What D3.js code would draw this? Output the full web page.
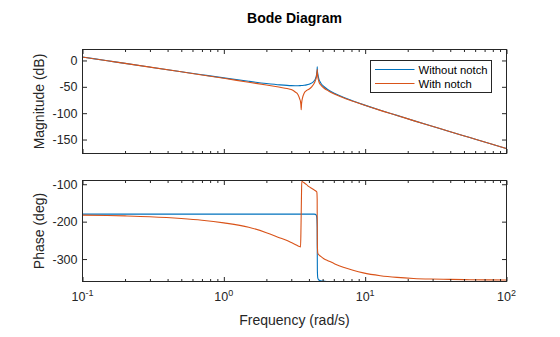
<!DOCTYPE html>
<html>
<head>
<meta charset="utf-8">
<script src="https://cdn.jsdelivr.net/npm/d3@7"></script>
<style>
  body { margin: 0; background: #fff; }
  svg { display: block; font-family: "Liberation Sans", Arial, Helvetica, sans-serif; }
</style>
</head>
<body>
<svg id="chart" width="560" height="337"></svg>
<script>
// Frequency grid (rad/s), denser around the notch (~3.53) and the resonance (~4.58)
const freq = [0.1, 0.15, 0.2, 0.3, 0.5, 0.7, 1, 1.5, 2, 2.5, 2.8, 3.0, 3.2, 3.35, 3.45, 3.49, 3.51, 3.527, 3.545, 3.56,
  3.6, 3.7, 3.85, 4.0, 4.2, 4.35, 4.45, 4.52, 4.55, 4.575, 4.58, 4.59, 4.62, 4.7, 4.85, 5.1, 5.5, 6.1, 7, 8.2,
  9.7, 12.8, 16.8, 22, 29, 40, 55, 75, 100];

// Magnitude (dB)
const magWithout = [6.5, -0.53, -5.52, -12.54, -21.36, -27.1, -33.08, -39.56, -43.7, -46.35, -47.32, -47.72, -47.88, -47.85, -47.73, -47.66, -47.62, -47.59, -47.54, -47.5,
  -47.39, -47.05, -46.27, -45.08, -42.46, -38.87, -34.4, -28.0, -22.1, -17.0, -12.0, -19.0, -25.0, -34.9, -42.6, -49.4, -56.0, -62.7, -69.8, -76.8,
  -83.8, -94.5, -104.2, -114.1, -123.8, -135.1, -146.2, -157.0, -167.1];
const magWith = [6.5, -0.55, -5.55, -12.6, -21.54, -27.45, -33.82, -41.4, -46.6, -50.95, -53.2, -55.3, -59.9, -64.85, -73.7, -78.7, -84.6, -93.5, -83.5, -78.5,
  -71.4, -62.0, -57.0, -54.6, -49.5, -43.9, -37.9, -31.0, -25.1, -20.0, -17.0, -22.0, -30.0, -39.9, -46.4, -52.2, -57.8, -63.9, -70.6, -77.3,
  -84.15, -94.7, -104.3, -114.15, -123.8, -135.1, -146.2, -157.0, -167.1];

// Phase (deg)
const phaseWithout = [-180, -180, -180, -180, -180, -180, -180, -180, -180, -180, -180, -180, -180, -180, -180, -180, -180, -180, -180, -180,
  -180, -180, -180, -180, -180, -180, -180.5, -184, -190, -215, -270, -330, -350, -356, -358, -359, -360, -360, -360, -360,
  -360, -360, -360, -360, -360, -360, -360, -360, -360];
const phaseWith = [-182.5, -183.4, -184.6, -186.8, -191.5, -196.1, -203.3, -215, -229.5, -243.5, -250.5, -256, -261, -265, -266.5, -267.5, -230, -180, -125, -92,
  -93, -96, -101, -106.5, -111.5, -115, -117.5, -119.5, -121, -140, -200, -260, -284, -288.5, -293, -299, -305, -313, -322, -330,
  -337, -344.5, -349, -351.8, -353.4, -354.4, -355.2, -355.7, -356];

const seriesNames = ["Without notch", "With notch"];
const seriesColors = ["#0072BD", "#D95319"];

// Axis limits and ticks
const freqRange = [0.1, 100];
const freqTicks = [0.1, 1, 10, 100];
const freqExponents = ["-1", "0", "1", "2"];
const magRange = [-176.5, 20.8];
const magTicks = [-150, -100, -50, 0];
const phaseRange = [-360, -90];
const phaseTicks = [-300, -200, -100];

const svg = d3.select("#chart");
const axisColor = "#262626";
const left = 82.5, right = 506.5;
const magBox = { top: 49.5, bottom: 153.5 };
const phBox = { top: 180.5, bottom: 281.5 };

const x = d3.scaleLog().domain(freqRange).range([left, right]);
const yMag = d3.scaleLinear().domain(magRange).range([magBox.bottom, magBox.top]);
const yPh = d3.scaleLinear().domain(phaseRange).range([phBox.bottom, phBox.top]);

// minor ticks: 2..9 within each decade
const minorTicks = [];
[0.1, 1, 10].forEach(d => { for (let k = 2; k <= 9; k++) minorTicks.push(+(k * d).toPrecision(3)); });

function styleAxis(g) {
  g.select(".domain").remove();
  g.selectAll(".tick line").attr("stroke", axisColor).attr("stroke-width", 1);
  g.selectAll(".tick text").attr("fill", axisColor).attr("font-size", 12.5);
}

function panel(y, box, yTicks, series, id) {
  const g = svg.append("g");
  const h = box.bottom - box.top;

  g.append("rect").attr("x", left).attr("y", box.top).attr("width", right - left).attr("height", h).attr("fill", "#fff");

  svg.append("clipPath").attr("id", id).append("rect")
    .attr("x", left).attr("y", box.top).attr("width", right - left).attr("height", h);

  const line = d3.line().curve(d3.curveMonotoneX);
  series.forEach((vals, i) => {
    const pts = freq.map((f, j) => [x(f), y(vals[j])]);
    g.append("path")
      .attr("clip-path", `url(#${id})`)
      .attr("d", line(pts))
      .attr("fill", "none")
      .attr("stroke", seriesColors[i])
      .attr("stroke-width", 1.1)
      .attr("stroke-linejoin", "round");
  });

  // x ticks on bottom and top edges, pointing inward
  g.append("g").attr("transform", `translate(0,${box.bottom})`)
    .call(d3.axisBottom(x).tickValues(freqTicks).tickSize(-4.5).tickFormat("")).call(styleAxis);
  g.append("g").attr("transform", `translate(0,${box.bottom})`)
    .call(d3.axisBottom(x).tickValues(minorTicks).tickSize(-2.5).tickFormat("")).call(styleAxis);
  g.append("g").attr("transform", `translate(0,${box.top})`)
    .call(d3.axisTop(x).tickValues(freqTicks).tickSize(-4.5).tickFormat("")).call(styleAxis);
  g.append("g").attr("transform", `translate(0,${box.top})`)
    .call(d3.axisTop(x).tickValues(minorTicks).tickSize(-2.5).tickFormat("")).call(styleAxis);

  // y ticks on left (labelled) and right edges
  g.append("g").attr("transform", `translate(${left},0)`)
    .call(d3.axisLeft(y).tickValues(yTicks).tickSize(-4.5).tickPadding(5).tickFormat(d => String(d))).call(styleAxis);
  g.append("g").attr("transform", `translate(${right},0)`)
    .call(d3.axisRight(y).tickValues(yTicks).tickSize(-4.5).tickFormat("")).call(styleAxis);

  g.append("rect").attr("x", left).attr("y", box.top).attr("width", right - left).attr("height", h)
    .attr("fill", "none").attr("stroke", axisColor).attr("stroke-width", 1);
  return g;
}

panel(yMag, magBox, magTicks, [magWithout, magWith], "clipMag");
panel(yPh, phBox, phaseTicks, [phaseWithout, phaseWith], "clipPh");

// power-of-ten frequency labels under the phase panel
freqTicks.forEach((v, i) => {
  const t = svg.append("text")
    .attr("x", x(v)).attr("y", phBox.bottom + 19.5)
    .attr("text-anchor", "middle").attr("fill", axisColor).attr("font-size", 12.5);
  t.append("tspan").text("10");
  t.append("tspan").attr("dy", -5).attr("font-size", 9).text(freqExponents[i]);
});

// Title and axis labels
svg.append("text").attr("x", (left + right) / 2).attr("y", 23)
  .attr("text-anchor", "middle").attr("font-weight", "bold").attr("font-size", 14)
  .attr("fill", "#000").text("Bode Diagram");

svg.append("text").attr("x", (left + right) / 2).attr("y", 324.5)
  .attr("text-anchor", "middle").attr("font-size", 14).attr("fill", axisColor)
  .text("Frequency (rad/s)");

svg.append("text").attr("transform", `translate(44,${(magBox.top + magBox.bottom) / 2}) rotate(-90)`)
  .attr("text-anchor", "middle").attr("font-size", 14).attr("fill", axisColor)
  .text("Magnitude (dB)");

svg.append("text").attr("transform", `translate(44,${(phBox.top + phBox.bottom) / 2}) rotate(-90)`)
  .attr("text-anchor", "middle").attr("font-size", 14).attr("fill", axisColor)
  .text("Phase (deg)");

// Legend
const legend = svg.append("g").attr("transform", "translate(370.5,60.5)");
legend.append("rect").attr("width", 121).attr("height", 32)
  .attr("fill", "#fff").attr("stroke", axisColor).attr("stroke-width", 1);
seriesNames.forEach((name, i) => {
  const yy = 9 + i * 14;
  legend.append("line").attr("x1", 4.5).attr("x2", 44).attr("y1", yy).attr("y2", yy)
    .attr("stroke", seriesColors[i]).attr("stroke-width", 1.2);
  legend.append("text").attr("x", 48).attr("y", yy + 4).attr("font-size", 11.3)
    .attr("fill", "#000").text(name);
});
</script>
</body>
</html>
